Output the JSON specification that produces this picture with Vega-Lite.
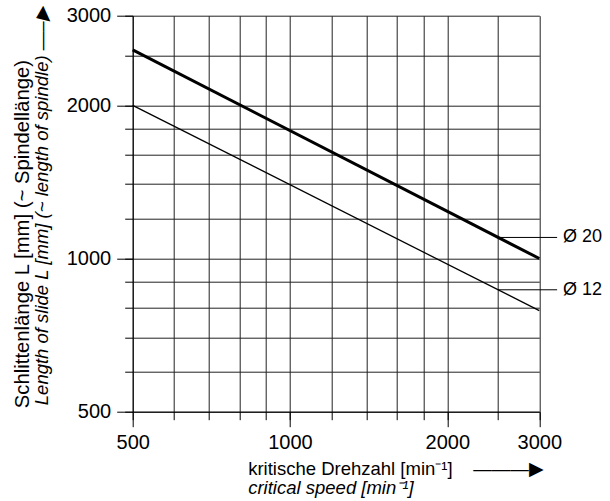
{
  "$schema": "https://vega.github.io/schema/vega-lite/v6.json",
  "width": 406.6,
  "height": 396,
  "autosize": {"type": "none"},
  "padding": {"left": 132.7, "top": 15.7, "right": 70.7, "bottom": 89.3},
  "background": "white",
  "config": {
    "font": "Liberation Sans",
    "view": {"stroke": null},
    "axis": {
      "labelFont": "Liberation Sans",
      "titleFont": "Liberation Sans",
      "labelFontSize": 20,
      "titleFontSize": 18,
      "titleFontWeight": "normal",
      "labelColor": "black",
      "titleColor": "black",
      "tickColor": "black",
      "domainColor": "black",
      "gridColor": "#222222",
      "gridOpacity": 1,
      "gridWidth": 1,
      "tickWidth": 1,
      "domainWidth": 1,
      "labelFlush": false,
      "labelOverlap": false
    }
  },
  "datasets": {
    "curves": [
      {"n": 500, "L": 2570, "d": "Ø 20"},
      {"n": 3000, "L": 1000, "d": "Ø 20"},
      {"n": 500, "L": 2000, "d": "Ø 12"},
      {"n": 3000, "L": 790, "d": "Ø 12"}
    ],
    "labels": [
      {"d": "Ø 20", "x1": 2500, "x2": 3245, "yv": 1100, "lx": 3330},
      {"d": "Ø 12", "x1": 2500, "x2": 3245, "yv": 868, "lx": 3330}
    ]
  },
  "resolve": {"axis": {"x": "independent", "y": "independent"}},
  "layer": [
    {
      "data": {"name": "labels"},
      "mark": {"type": "rule", "color": "black", "strokeWidth": 1},
      "encoding": {
        "x": {
          "field": "x1", "type": "quantitative",
          "scale": {"type": "log", "domain": [500, 3000], "nice": false},
          "axis": {
            "orient": "bottom",
            "values": [500, 600, 700, 800, 900, 1000, 1200, 1400, 1600, 1800, 2000, 2500, 3000],
            "grid": true, "labels": false, "domain": false, "tickSize": 8,
            "title": "critical speed [min⁻¹]",
            "titleFontStyle": "italic",
            "titleFontSize": 18.5,
            "titleX": 115, "titleY": 82,
            "titleAlign": "left", "titleBaseline": "alphabetic"
          }
        },
        "x2": {"field": "x2"},
        "y": {
          "field": "yv", "type": "quantitative",
          "scale": {"type": "log", "domain": [500, 3000], "nice": false},
          "axis": {
            "orient": "left",
            "values": [500, 600, 700, 800, 900, 1000, 1200, 1400, 1600, 1800, 2000, 2500, 3000],
            "grid": true, "labels": false, "domain": false, "tickSize": 8,
            "title": "Length of slide L [mm] (~ length of spindle) —–▶",
            "titleFontStyle": "italic",
            "titleFontSize": 18.5,
            "titleAngle": -90,
            "titleX": -85, "titleY": 389,
            "titleAlign": "left", "titleBaseline": "alphabetic"
          }
        }
      }
    },
    {
      "data": {"name": "curves"},
      "mark": {"type": "line", "color": "black"},
      "encoding": {
        "x": {
          "field": "n", "type": "quantitative",
          "scale": {"type": "log", "domain": [500, 3000], "nice": false},
          "axis": {
            "orient": "bottom",
            "values": [500, 1000, 2000, 3000],
            "format": "d",
            "grid": false, "tickSize": 15, "labelPadding": 6,
            "title": "kritische Drehzahl [min⁻¹]\u00a0\u00a0\u00a0\u00a0———▶",
            "titleFontSize": 18.5,
            "titleX": 115, "titleY": 63,
            "titleAlign": "left", "titleBaseline": "alphabetic"
          }
        },
        "y": {
          "field": "L", "type": "quantitative",
          "scale": {"type": "log", "domain": [500, 3000], "nice": false},
          "axis": {
            "orient": "left",
            "values": [500, 1000, 2000, 3000],
            "format": "d",
            "grid": false, "tickSize": 16, "labelPadding": 6,
            "title": "Schlittenlänge L [mm] (~ Spindellänge)",
            "titleFontSize": 20.3,
            "titleAngle": -90,
            "titleX": -104, "titleY": 392,
            "titleAlign": "left", "titleBaseline": "alphabetic"
          }
        },
        "detail": {"field": "d"},
        "strokeWidth": {
          "field": "d", "type": "nominal",
          "scale": {"domain": ["Ø 20", "Ø 12"], "range": [3, 1.3]},
          "legend": null
        }
      }
    },
    {
      "data": {"name": "labels"},
      "mark": {"type": "text", "align": "left", "baseline": "middle", "fontSize": 18, "font": "Liberation Sans", "color": "black"},
      "encoding": {
        "x": {"field": "lx", "type": "quantitative", "scale": {"type": "log", "domain": [500, 3000], "nice": false}, "axis": null},
        "y": {"field": "yv", "type": "quantitative", "scale": {"type": "log", "domain": [500, 3000], "nice": false}, "axis": null},
        "text": {"field": "d"}
      }
    }
  ]
}
